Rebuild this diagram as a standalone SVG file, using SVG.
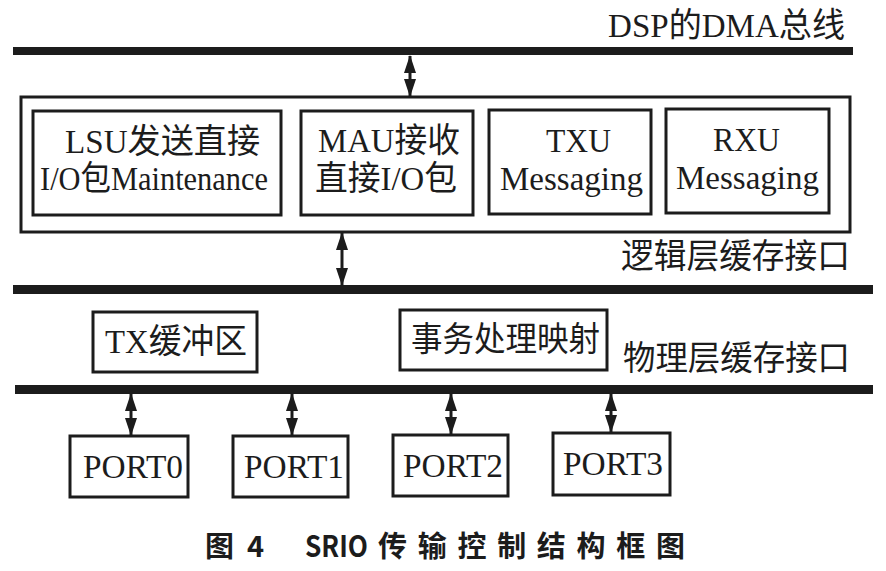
<svg xmlns="http://www.w3.org/2000/svg" width="886" height="571" viewBox="0 0 886 571">
<style>
.bus{fill:#1c1c1c}
.box{fill:none;stroke:#1c1c1c;stroke-width:3}
.t{font-family:"Liberation Serif","Noto Sans CJK SC",serif;font-size:34px;fill:#1c1c1c}
.cap{font-family:"Noto Sans CJK SC","Liberation Sans",sans-serif;font-size:29px;font-weight:bold;fill:#1c1c1c}
.arr{stroke:#1c1c1c;stroke-width:3;fill:none;marker-start:url(#ah);marker-end:url(#ah)}
</style>
<defs>
<marker id="ah" viewBox="0 0 18 12" refX="17" refY="6" markerWidth="18" markerHeight="12" markerUnits="userSpaceOnUse" orient="auto-start-reverse">
<path d="M0,0 L18,6 L0,12 Z" fill="#1c1c1c"/>
</marker>
</defs>
<rect width="886" height="571" fill="#fff"/>
<g id="buses">
<rect class="bus" x="13" y="47" width="840" height="8"/>
<rect class="bus" x="13" y="285" width="860" height="9"/>
<rect class="bus" x="15" y="385" width="858" height="9"/>
<text class="t" x="608" y="37" textLength="237" lengthAdjust="spacingAndGlyphs">DSP的DMA总线</text>
<text class="t" x="621" y="268" textLength="229" lengthAdjust="spacingAndGlyphs">逻辑层缓存接口</text>
<text class="t" x="623" y="370" textLength="227" lengthAdjust="spacingAndGlyphs">物理层缓存接口</text>
</g>
<g id="logic">
<rect class="box" x="21" y="97" width="829" height="135"/>
</g>
<g id="lsu">
<rect class="box" x="33" y="111" width="248" height="104"/>
<text class="t" x="65" y="153" textLength="195" lengthAdjust="spacingAndGlyphs">LSU发送直接</text>
<text class="t" x="40" y="190" textLength="228" lengthAdjust="spacingAndGlyphs">I/O包Maintenance</text>
</g>
<g id="mau">
<rect class="box" x="301" y="111" width="172" height="104"/>
<text class="t" x="318" y="152" textLength="142" lengthAdjust="spacingAndGlyphs">MAU接收</text>
<text class="t" x="315" y="190" textLength="142" lengthAdjust="spacingAndGlyphs">直接I/O包</text>
</g>
<g id="txu">
<rect class="box" x="489" y="110" width="162" height="104"/>
<text class="t" x="546" y="152" textLength="65" lengthAdjust="spacingAndGlyphs">TXU</text>
<text class="t" x="500" y="190" textLength="143" lengthAdjust="spacingAndGlyphs">Messaging</text>
</g>
<g id="rxu">
<rect class="box" x="666" y="109" width="163" height="104"/>
<text class="t" x="713" y="151" textLength="67" lengthAdjust="spacingAndGlyphs">RXU</text>
<text class="t" x="676" y="189" textLength="143" lengthAdjust="spacingAndGlyphs">Messaging</text>
</g>
<g id="txbuf">
<rect class="box" x="93" y="312" width="164" height="60"/>
<text class="t" x="105" y="353" textLength="142" lengthAdjust="spacingAndGlyphs">TX缓冲区</text>
</g>
<g id="map">
<rect class="box" x="400" y="310" width="207" height="60"/>
<text class="t" x="411" y="351" textLength="189" lengthAdjust="spacingAndGlyphs">事务处理映射</text>
</g>
<g id="port0">
<rect class="box" x="70" y="436" width="118" height="61"/>
<text class="t" x="83" y="478" textLength="100" lengthAdjust="spacingAndGlyphs">PORT0</text>
</g>
<g id="port1">
<rect class="box" x="233" y="436" width="115" height="61"/>
<text class="t" x="244" y="478" textLength="100" lengthAdjust="spacingAndGlyphs">PORT1</text>
</g>
<g id="port2">
<rect class="box" x="393" y="435" width="115" height="61"/>
<text class="t" x="403" y="477" textLength="100" lengthAdjust="spacingAndGlyphs">PORT2</text>
</g>
<g id="port3">
<rect class="box" x="553" y="433" width="117" height="62"/>
<text class="t" x="563" y="475" textLength="100" lengthAdjust="spacingAndGlyphs">PORT3</text>
</g>
<g id="connectors">
<line class="arr" x1="410" y1="56" x2="410" y2="96"/>
<line class="arr" x1="342" y1="233" x2="342" y2="285"/>
<line class="arr" x1="131" y1="394" x2="131" y2="435"/>
<line class="arr" x1="292" y1="394" x2="292" y2="435"/>
<line class="arr" x1="451" y1="394" x2="451" y2="434"/>
<line class="arr" x1="611" y1="394" x2="611" y2="432"/>
</g>
<g id="caption">
<text class="cap" x="205" y="557">图</text>
<text class="cap" x="247" y="557">4</text>
<text class="cap" x="305" y="557" textLength="63" lengthAdjust="spacingAndGlyphs">SRIO</text>
<text class="cap" x="378" y="557" textLength="307" lengthAdjust="spacing">传输控制结构框图</text>
</g>
</svg>
